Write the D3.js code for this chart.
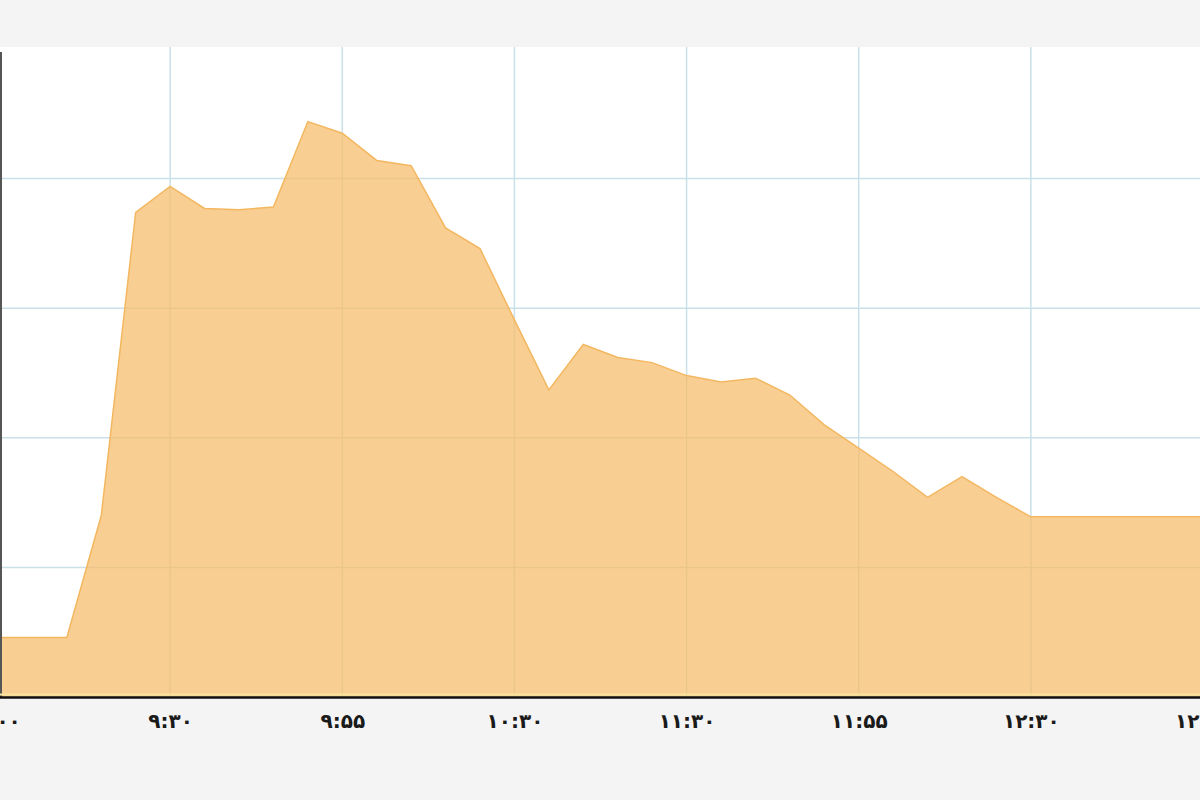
<!DOCTYPE html>
<html>
<head>
<meta charset="utf-8">
<script src="https://cdn.jsdelivr.net/npm/d3@7"></script>
<style>
  body { margin: 0; background: #f4f4f4; }
  svg { display: block; }
</style>
</head>
<body>
<div id="chart"></div>
<script>
// minutes after the first tick, one reading every 6 minutes
const minutes = d3.range(0, 36).map(i => i * 6)
const values = [0.46, 0.46, 0.46, 1.40, 3.74, 3.94, 3.77, 3.76, 3.78, 4.44,
  4.35, 4.14, 4.10, 3.62, 3.46, 2.91, 2.37, 2.72, 2.62, 2.58,
  2.48, 2.43, 2.46, 2.33, 2.10, 1.92, 1.74, 1.54, 1.70, 1.54,
  1.39, 1.39, 1.39, 1.39, 1.39, 1.39]
const tickMinutes = [0, 30, 60, 90, 120, 150, 180, 210]
const tickLabels = ['۹:۰۰', '۹:۳۰', '۹:۵۵', '۱۰:۳۰', '۱۱:۳۰', '۱۱:۵۵', '۱۲:۳۰', '۱۲:۵۵']
const yGrid = [1, 2, 3, 4]

const W = 1200, H = 800
const plot = { left: 0, right: 1200, top: 47, bottom: 697 }

const svg = d3.select('#chart').append('svg')
  .attr('width', W).attr('height', H)

svg.append('rect').attr('width', W).attr('height', H).attr('fill', '#f4f4f4')
svg.append('rect')
  .attr('x', plot.left).attr('y', plot.top)
  .attr('width', plot.right - plot.left).attr('height', plot.bottom - plot.top)
  .attr('fill', '#ffffff')

const x = d3.scaleLinear().domain([0, 210]).range([-2, 1203])
const y = d3.scaleLinear().domain([0, 5]).range([plot.bottom, plot.top + 2])

// grid
const g = svg.append('g')
g.selectAll('.vg').data(tickMinutes.slice(1, -1)).join('line')
  .attr('x1', d => x(d)).attr('x2', d => x(d))
  .attr('y1', plot.top).attr('y2', plot.bottom)
  .attr('stroke', '#c9e0e8').attr('stroke-width', 1.5)
g.selectAll('.hg').data(yGrid).join('line')
  .attr('x1', plot.left).attr('x2', plot.right)
  .attr('y1', d => y(d)).attr('y2', d => y(d))
  .attr('stroke', '#c9e0e8').attr('stroke-width', 1.5)

// area
const data = minutes.map((m, i) => ({ m: m, v: values[i] }))
const area = d3.area().x(d => x(d.m)).y0(y(0)).y1(d => y(d.v))
const line = d3.line().x(d => x(d.m)).y(d => y(d.v))

svg.append('path').datum(data)
  .attr('d', area)
  .attr('fill', '#f7bd6c').attr('fill-opacity', 0.74)
svg.append('path').datum(data)
  .attr('d', line)
  .attr('fill', 'none').attr('stroke', '#f3b760').attr('stroke-width', 1.5)

// left border + bottom axis
svg.append('line')
  .attr('x1', 1).attr('x2', 1).attr('y1', plot.top + 5).attr('y2', plot.bottom)
  .attr('stroke', '#555').attr('stroke-width', 2)
svg.append('line')
  .attr('x1', 0).attr('x2', W).attr('y1', plot.bottom - 2.5).attr('y2', plot.bottom - 2.5)
  .attr('stroke', '#f7e49a').attr('stroke-width', 2)

const xAxis = d3.axisBottom(x)
  .tickValues(tickMinutes)
  .tickFormat((d, i) => tickLabels[i])
  .tickSize(0).tickPadding(17)

const ax = svg.append('g')
  .attr('transform', `translate(0,${plot.bottom})`)
  .call(xAxis)
ax.select('.domain').attr('stroke', '#111').attr('stroke-width', 2.5)
  .attr('d', `M0,0.5H${W}`)
ax.selectAll('text')
  .attr('font-family', 'DejaVu Sans, sans-serif')
  .attr('font-size', 20).attr('font-weight', 'bold')
  .attr('fill', '#1a1a1a')
</script>
</body>
</html>
